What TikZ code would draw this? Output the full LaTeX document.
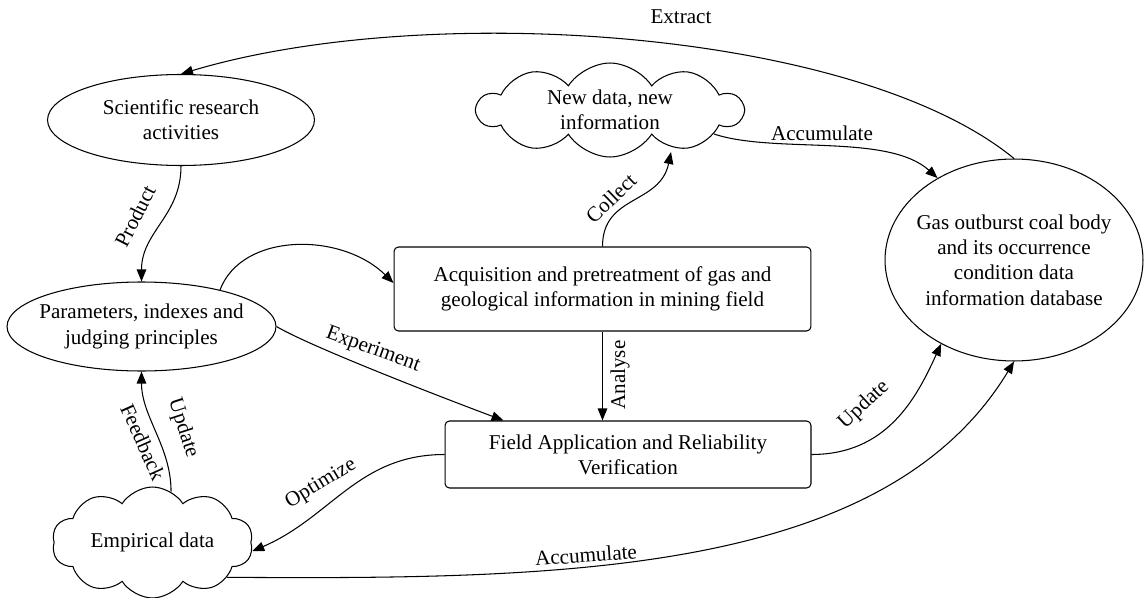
\documentclass[tikz,border=0pt]{standalone}
\usepackage{fontspec}
\setmainfont{Liberation Serif}
\usetikzlibrary{shapes.geometric,shapes.symbols,arrows.meta,calc}

\tikzset{
  oval/.style={ellipse, draw, inner sep=0pt},
  puff/.style={cloud, draw, cloud puffs=10, cloud puff arc=115, cloud ignores aspect, inner sep=0pt},
  stage/.style={draw, rounded corners=2.5pt, align=center, inner sep=0pt},
  inside/.style={align=center, inner sep=0pt},
  word/.style={inner sep=0pt},
}

\begin{document}
\begin{tikzpicture}[x=0.02cm, y=-0.02cm, line width=0.6pt, >={Triangle[length=0.24cm,width=0.19cm]}, font=\fontsize{12}{14.4}\selectfont]
\useasboundingbox (0,0) rectangle (1146,598);

\node[oval, minimum width=5.34cm, minimum height=1.82cm, label={[inside]center:{Scientific research\\activities}}] (sci) at (181,120) {};
\node[oval, minimum width=5.38cm, minimum height=1.78cm, label={[inside]center:{Parameters, indexes and\\judging principles}}] (par) at (141.5,326.5) {};
\node[oval, minimum width=5.16cm, minimum height=4.04cm, label={[inside]center:{Gas outburst coal body\\and its occurrence\\condition data\\information database}}] (gas) at (1014,260) {};
\node[puff, minimum width=5.3cm, minimum height=1.88cm, label={[inside]center:{New data, new\\information}}] (new) at (610,110) {};
\node[puff, minimum width=4.02cm, minimum height=2.22cm, label={[inside]center:{Empirical data}}] (emp) at (152.5,542.5) {};
\node[stage, minimum width=8.34cm, minimum height=1.68cm] (acq) at (602.5,289) {Acquisition and pretreatment of gas and\\geological information in mining field};
\node[stage, minimum width=7.32cm, minimum height=1.34cm] (fld) at (628,454.5) {Field Application and Reliability\\Verification};

% -------- connectors -----------
\draw[->] (gas.north) .. controls +(-157,-129) and +(247,-74) .. (sci.north);
\draw[->] (sci.south) .. controls +(0,50) and +(0,-50) .. (par.north);
\draw[->] (par.25) .. controls +(22,-58) and +(-52,-51) .. ([yshift=0.12cm]acq.west);
\draw[->] (par.east) .. controls +(30,18) and +(-80,-30) .. ($(fld.north west)+(59,0)$);
\draw[->] (acq.north) .. controls +(0,-52) and +(-11,53) .. ($(new.center)+(61,42)$);
\draw[->] (acq.south) -- (acq.south |- fld.north);
\draw[->] (new.-13) .. controls +(60,20) and +(-50,-45) .. (gas.133);
\draw[->] (fld.west) .. controls +(-86,0) and +(79,-34) .. (emp.-5);
\draw[->] (emp.70) .. controls +(0,-45) and +(0,45) .. (par.south);
\draw[->] (fld.east) .. controls +(75,0) and +(-25,55) .. (gas.-131);
\draw[->] (emp.-25) .. controls +(330,2) and +(-130,215) .. (gas.south);

% -------- labels -----------
\node[word] (lextract) at (681,17) {Extract};
\node[word] (lproduct) at (135,216) [rotate=63] {Product};
\node[word] (lcollect) at (611,198) [rotate=44] {Collect};
\node[word] (laccumtop) at (822,133) {Accumulate};
\node[word] (lanalyse) at (620,375) [rotate=90] {Analyse};
\node[word] (lexperiment) at (373,350) [rotate=-20] {Experiment};
\node[word] (lfeedback) at (143,442) [rotate=-66] {Feedback};
\node[word] (lupdateleft) at (183,428) [rotate=-72] {Update};
\node[word] (loptimize) at (321,484) [rotate=31] {Optimize};
\node[word] (lupdateright) at (864,405) [rotate=43] {Update};
\node[word] (laccumbot) at (586,555) [rotate=4] {Accumulate};
\end{tikzpicture}
\end{document}
